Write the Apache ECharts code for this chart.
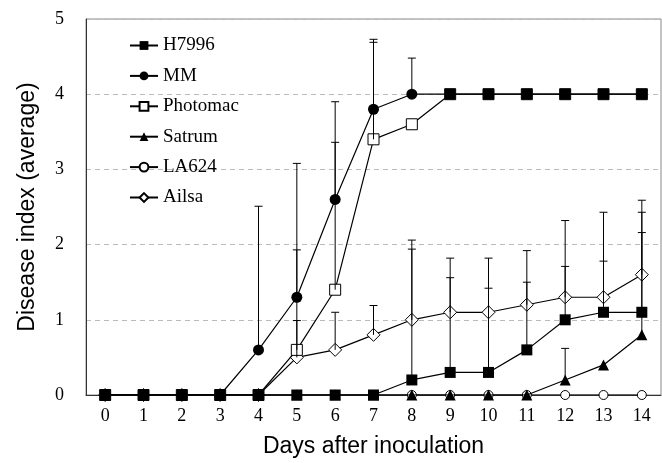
<!DOCTYPE html>
<html>
<head>
<meta charset="utf-8">
<script src="https://cdn.jsdelivr.net/npm/echarts@6/dist/echarts.min.js"></script>
<style>
html,body{margin:0;padding:0;background:#fff;}
#chart{width:662px;height:463px;}
</style>
</head>
<body>
<div id="chart"></div>
<script>
// Categories (days after inoculation)
const days = ['0','1','2','3','4','5','6','7','8','9','10','11','12','13','14'];

// Mean disease index per series
const H7996    = [0,0,0,0,0,0,0,0,0.2,0.3,0.3,0.6,1.0,1.1,1.1];
const MM       = [0,0,0,0,0.6,1.3,2.6,3.8,4.0,4.0,4.0,4.0,4.0,4.0,4.0];
const Photomac = [0,0,0,0,0,0.6,1.4,3.4,3.6,4.0,4.0,4.0,4.0,4.0,4.0];
const Satrum   = [0,0,0,0,0,0,0,0,0,0,0,0,0.2,0.4,0.8];
const LA624    = [0,0,0,0,0,0,0,0,0,0,0,0,0,0,0];
const Ailsa    = [0,0,0,0,0,0.5,0.6,0.8,1.0,1.1,1.1,1.2,1.3,1.3,1.6];

// Upper error (standard deviation) per series, null = no bar
const H7996_err    = [null,null,null,null,null,null,null,null,1.74,1.26,1.12,0.9,0.71,0.68,1.06];
const MM_err       = [null,null,null,null,1.91,1.78,1.3,0.93,0.48,null,null,null,null,null,null];
const Photomac_err = [null,null,null,null,null,1.33,1.96,1.29,null,null,null,null,null,null,null];
const Satrum_err   = [null,null,null,null,null,null,null,null,null,null,null,null,0.42,null,1.63];
const Ailsa_err    = [null,null,null,null,null,0.49,0.5,0.39,1.06,0.72,0.72,0.72,1.02,1.13,0.99];

const yTicks = [0,1,2,3,4,5];

const SERIF = "'Liberation Serif', 'Times New Roman', serif";
const SANS = "'Liberation Sans', Arial, sans-serif";

const lineStyle = {color:'#000', width:1.2};
const openItem = {color:'#fff', borderColor:'#000', borderWidth:1};
const filledItem = {color:'#000'};

// Build error-bar records [x, mean, err]
const errData = [];
[[H7996,H7996_err],[MM,MM_err],[Photomac,Photomac_err],[Satrum,Satrum_err],[Ailsa,Ailsa_err]].forEach(([m,e])=>{
  e.forEach((v,i)=>{ if(v!=null) errData.push([i, m[i], v]); });
});

// MM markers coincide with the plateau drawn as filled squares after day 8
const mmData = MM.map((v,i)=> i>=9 ? {value:v, symbol:'rect', symbolSize:11} : v);

const chart = echarts.init(document.getElementById('chart'), null, {renderer:'canvas'});
chart.setOption({
  animation:false,
  backgroundColor:'#fff',
  grid:{left:86, right:1, top:19, bottom:67, show:true, borderColor:'#888', borderWidth:1, backgroundColor:'transparent'},
  legend:{
    orient:'vertical', left:129, top:36, padding:0,
    itemWidth:28, itemHeight:11, itemGap:11.4,
    data:['H7996','MM','Photomac','Satrum','LA624','Ailsa'],
    textStyle:{fontFamily:SERIF, fontSize:19, color:'#000', lineHeight:18}
  },
  xAxis:{
    type:'category', data:days, boundaryGap:true,
    axisLine:{lineStyle:{color:'#333', width:1}},
    axisTick:{show:false},
    axisLabel:{fontFamily:SERIF, fontSize:18, color:'#000', margin:12},
    splitLine:{show:false},
    name:'Days after inoculation', nameLocation:'middle', nameGap:40,
    nameTextStyle:{fontFamily:SANS, fontSize:23, color:'#000'}
  },
  yAxis:{
    type:'value', min:yTicks[0], max:yTicks[yTicks.length-1], interval:1,
    axisLine:{show:true, lineStyle:{color:'#333', width:1}},
    axisTick:{show:false},
    axisLabel:{fontFamily:SERIF, fontSize:18, color:'#000', margin:22},
    splitLine:{show:true, lineStyle:{color:'#bbb', type:[5,4], width:1}},
    name:'Disease index (average)', nameLocation:'middle', nameGap:47, nameRotate:90,
    nameTextStyle:{fontFamily:SANS, fontSize:23, color:'#000'}
  },
  series:[
    {name:'LA624', type:'line', data:LA624, symbol:'circle', symbolSize:9, lineStyle:lineStyle, itemStyle:openItem, z:2},
    {name:'Satrum', type:'line', data:Satrum, symbol:'triangle', symbolSize:11, lineStyle:lineStyle, itemStyle:filledItem, z:3},
    {name:'Ailsa', type:'line', data:Ailsa, symbol:'diamond', symbolSize:13, lineStyle:lineStyle, itemStyle:openItem, z:4},
    {name:'Photomac', type:'line', data:Photomac, symbol:'rect', symbolSize:11, lineStyle:lineStyle, itemStyle:openItem, z:5},
    {name:'MM', type:'line', data:mmData, symbol:'circle', symbolSize:11, lineStyle:lineStyle, itemStyle:filledItem, z:6},
    {name:'H7996', type:'line', data:H7996, symbol:'rect', symbolSize:11, lineStyle:lineStyle, itemStyle:filledItem, z:7},
    {
      type:'custom', z:8, silent:true,
      data:errData,
      encode:{x:0, y:1},
      renderItem:function(params, api){
        const x = api.value(0), m = api.value(1), e = api.value(2);
        const p0 = api.coord([x, m]);
        const p1 = api.coord([x, m + e]);
        const cap = 4;
        const st = {stroke:'#000', lineWidth:1, fill:null};
        return {type:'group', children:[
          {type:'line', shape:{x1:p0[0], y1:p0[1], x2:p1[0], y2:p1[1]}, style:st},
          {type:'line', shape:{x1:p1[0]-cap, y1:p1[1], x2:p1[0]+cap, y2:p1[1]}, style:st}
        ]};
      }
    }
  ]
});
</script>
</body>
</html>
